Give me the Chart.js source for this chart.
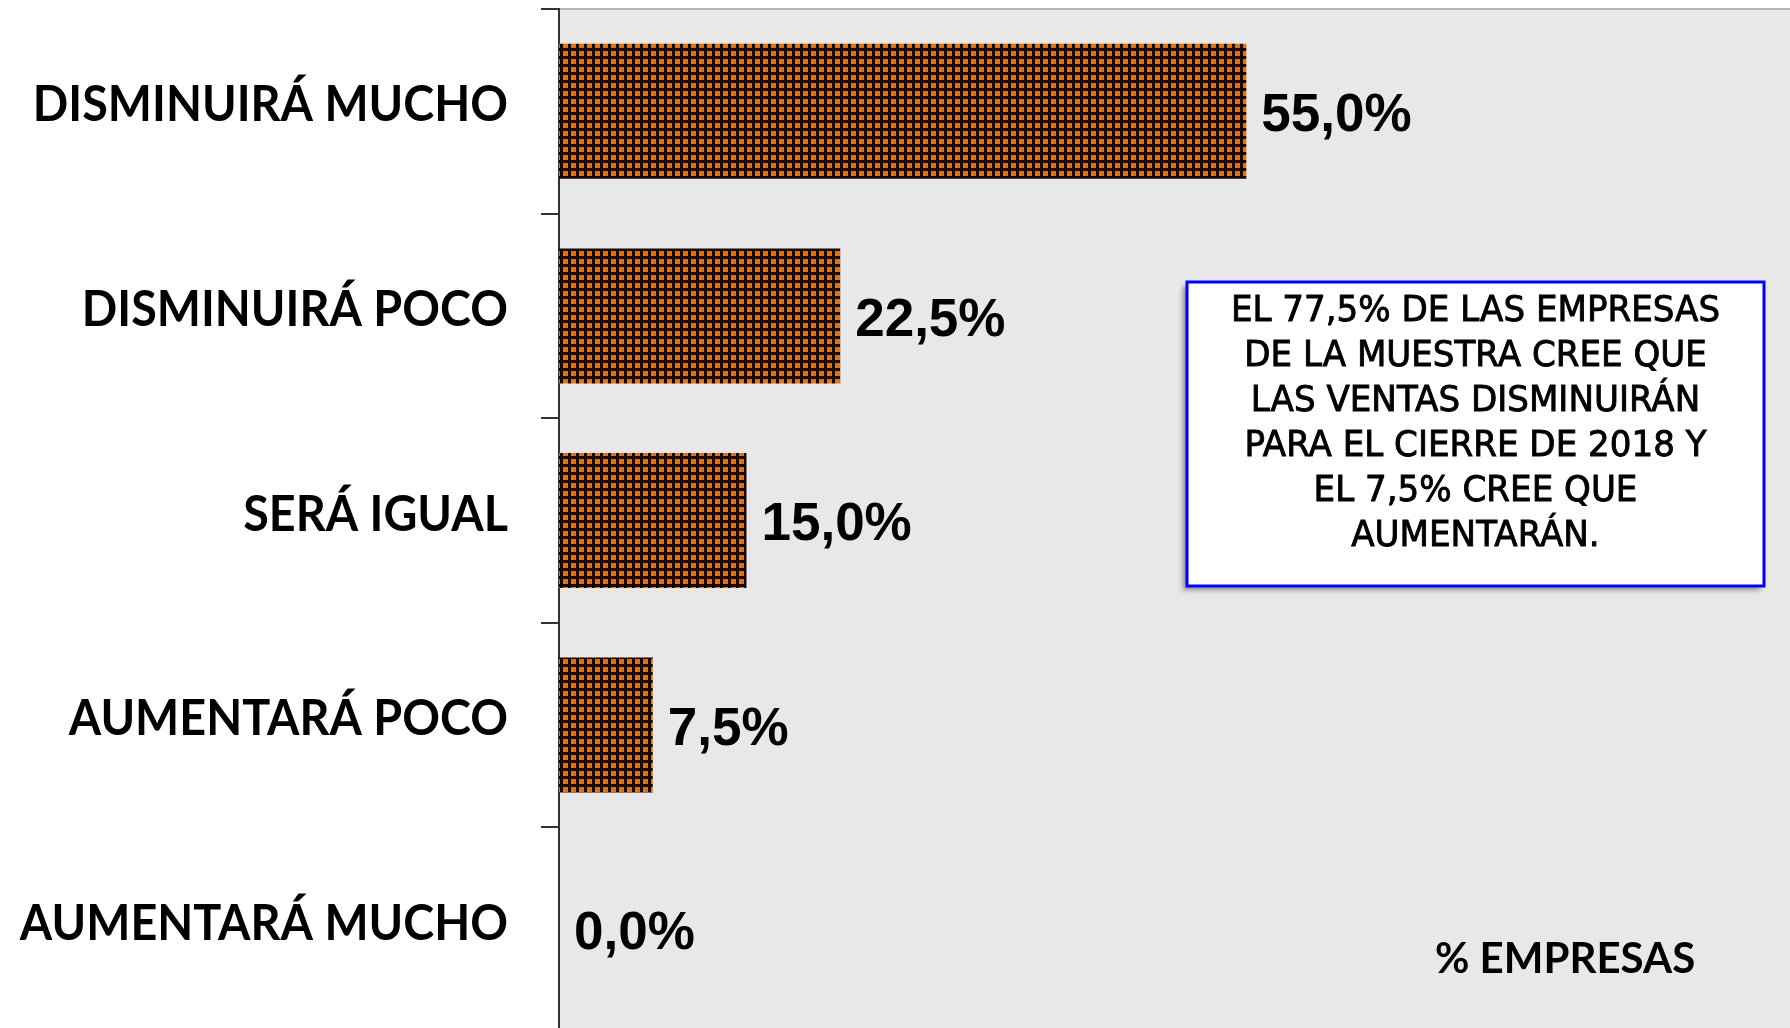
<!DOCTYPE html>
<html>
<head>
<meta charset="utf-8">
<script src="https://cdn.jsdelivr.net/npm/chart.js@4.4.1/dist/chart.umd.min.js"></script>
<style>
    html, body { margin: 0; padding: 0; background: #ffffff; overflow: hidden; }
    #wrap { width: 1790px; height: 1032px; position: relative; }
</style>
</head>
<body>
<div id="wrap"><canvas id="ventas-canvas"></canvas></div>
<script>
// ── 数据 ──────────────────────
const categorias = ['DISMINUIRÁ MUCHO', 'DISMINUIRÁ POCO', 'SERÁ IGUAL', 'AUMENTARÁ POCO', 'AUMENTARÁ MUCHO'];
const porcentajes = [55.0, 22.5, 15.0, 7.5, 0.0];
const ejeMax = 98.5;
const tituloEje = '% EMPRESAS';
const notaLineas = [
    'EL 77,5% DE LAS EMPRESAS',
    'DE LA MUESTRA CREE QUE',
    'LAS VENTAS DISMINUIRÁN',
    'PARA EL CIERRE DE 2018 Y',
    'EL 7,5% CREE QUE',
    'AUMENTARÁN.'
];

// 橙黑网格纹理
function makeGridPattern() {
    const c = document.createElement('canvas');
    c.width = 8; c.height = 8;
    const g = c.getContext('2d');
    g.fillStyle = '#160800';
    g.fillRect(0, 0, 8, 8);
    g.fillStyle = '#e8700c';
    g.fillRect(3, 3, 5, 5);
    return g.createPattern(c, 'repeat');
}

const fmtPct = v => v.toFixed(1).replace('.', ',') + '%';

// 横向压缩文字
function squeezeText(ctx, text, x, y, sx, align) {
    ctx.save();
    ctx.translate(x, y);
    ctx.scale(sx, 1);
    ctx.textAlign = align;
    ctx.fillText(text, 0, 0);
    ctx.restore();
}

// ── 自定义绘制插件 ──────────────────────
const ventasPlugin = {
    id: 'ventasPlugin',
    beforeDraw(chart) {
        const { ctx, chartArea: a } = chart;
        ctx.save();
        ctx.fillStyle = '#e8e8e8';
        ctx.fillRect(a.left, a.top, a.right - a.left, a.bottom - a.top);
        ctx.strokeStyle = '#b4b4b4';
        ctx.lineWidth = 2;
        ctx.beginPath();
        ctx.moveTo(a.left, a.top);
        ctx.lineTo(a.right, a.top);
        ctx.stroke();
        ctx.restore();
    },
    afterDraw(chart) {
        const { ctx, chartArea: a } = chart;
        const yScale = chart.scales.y;
        const meta = chart.getDatasetMeta(0);
        ctx.save();

        // 类别标签
        ctx.fillStyle = '#000';
        ctx.font = 'bold 50px Lato';
        ctx.textBaseline = 'middle';
        categorias.forEach((c, i) => {
            squeezeText(ctx, c, a.left - 51, yScale.getPixelForValue(i) - 6, 0.935, 'right');
        });

        // 数值标签
        ctx.font = 'bold 53px "Liberation Sans", Arial, sans-serif';
        ctx.textAlign = 'left';
        meta.data.forEach((bar, i) => {
            ctx.fillText(fmtPct(porcentajes[i]), bar.x + 15, bar.y + 5);
        });

        // 轴标题
        ctx.font = 'bold 42px Lato';
        ctx.textAlign = 'left';
        ctx.fillText(tituloEje, a.left + 876, 959);

        // 注释框
        const bx = 1187, by = 282, bw = 577, bh = 304;
        ctx.save();
        ctx.shadowColor = 'rgba(0,0,0,0.4)';
        ctx.shadowBlur = 5;
        ctx.shadowOffsetX = -4;
        ctx.shadowOffsetY = 4;
        ctx.fillStyle = '#ffffff';
        ctx.fillRect(bx, by, bw, bh);
        ctx.restore();
        ctx.strokeStyle = '#0000ff';
        ctx.lineWidth = 3;
        ctx.strokeRect(bx, by, bw, bh);
        ctx.fillStyle = '#000';
        ctx.strokeStyle = '#000';
        ctx.lineWidth = 0.9;
        ctx.font = '35px "DejaVu Sans"';
        ctx.textAlign = 'center';
        notaLineas.forEach((t, i) => {
            const tx = bx + bw / 2, ty = by + 30 + i * 45;
            ctx.save();
            ctx.translate(tx, ty);
            ctx.scale(0.975, 1);
            ctx.fillText(t, 0, 0);
            ctx.strokeText(t, 0, 0);
            ctx.restore();
        });
        ctx.restore();
    }
};

new Chart(document.getElementById('ventas-canvas').getContext('2d'), {
    type: 'bar',
    data: {
        labels: categorias,
        datasets: [{
            data: porcentajes,
            backgroundColor: makeGridPattern(),
            borderWidth: 0,
            categoryPercentage: 1,
            barPercentage: 0.66,
        }]
    },
    options: {
        indexAxis: 'y',
        responsive: true,
        maintainAspectRatio: false,
        animation: false,
        layout: { padding: { top: 9, right: 0, bottom: 0, left: 0 } },
        plugins: {
            legend: { display: false },
            tooltip: { enabled: false },
        },
        scales: {
            x: {
                display: false,
                min: 0,
                max: ejeMax,
            },
            y: {
                offset: true,
                ticks: { display: false },
                grid: {
                    offset: true,
                    drawOnChartArea: false,
                    drawTicks: true,
                    tickLength: 18,
                    color: '#333333',
                    lineWidth: 2,
                },
                border: { display: true, color: '#333333', width: 2 },
                afterFit: s => { s.width = 559; },
            }
        }
    },
    plugins: [ventasPlugin]
});
</script>
</body>
</html>
